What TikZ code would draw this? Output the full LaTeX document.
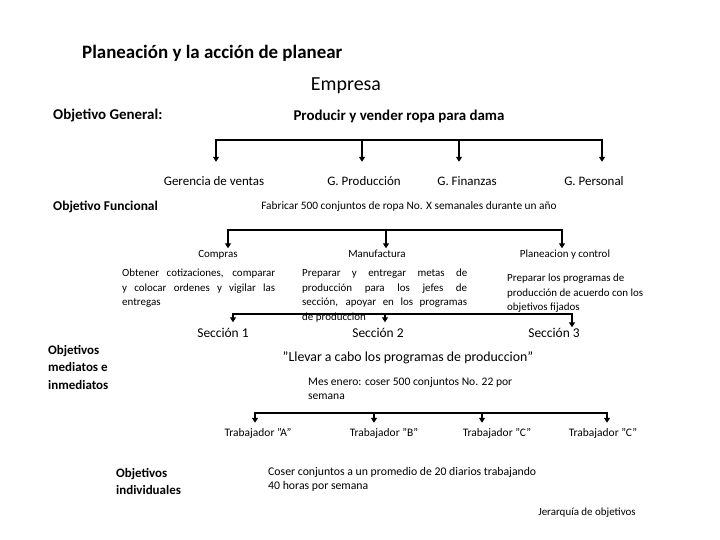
\documentclass[tikz,border=0pt]{standalone}
\usepackage{fontspec}
\setmainfont{Carlito}
\usetikzlibrary{arrows.meta}

\begin{document}
\begin{tikzpicture}[x=1bp, y=-1bp,
		barra/.style={line width=1.8bp, line cap=rect},
		flecha/.style={line width=1.8bp, -{Triangle[width=6bp,length=5bp]}},
		titulo/.style={font=\fontsize{19}{22}\selectfont\bfseries, anchor=west, inner sep=0pt},
		negrita/.style={font=\fontsize{15}{17}\selectfont\bfseries, inner sep=0pt},
		nivel/.style={font=\fontsize{13}{17.5}\selectfont\bfseries, inner sep=0pt, anchor=north west, align=left},
		gerencia/.style={font=\fontsize{13}{15}\selectfont, anchor=base, inner sep=0pt, text height=9bp},
		depto/.style={font=\fontsize{11}{14}\selectfont, anchor=base, inner sep=0pt, text height=9bp},
		trabajador/.style={depto, font=\fontsize{11.5}{14}\selectfont},
		seccion/.style={font=\fontsize{13.5}{16}\selectfont, anchor=base, inner sep=0pt, text height=9bp},
		texto/.style={font=\fontsize{11}{14.5}\selectfont, inner sep=0pt},
		bloque/.style={texto, anchor=north west, align=justify},
	]
	\useasboundingbox (0,0) rectangle (720,540);

	\node[titulo] (titulo) at (82,53) {Planeación y la acción de planear};
	\node[font=\fontsize{20}{22}\selectfont, inner sep=0pt] (empresa) at (346,86) {Empresa};
	\node[negrita, anchor=west] (objgen) at (53,116) {Objetivo General:};
	\node[negrita] (producir) at (399,116) {Producir y vender ropa para dama};

	\node[gerencia] (ventas) at (214,186) {Gerencia de ventas};
	\node[gerencia] (gprod) at (364,186) {G. Producción};
	\node[gerencia] (gfin) at (467,186) {G. Finanzas};
	\node[gerencia] (gpers) at (594,186) {G. Personal};

	\node[negrita, font=\fontsize{13.5}{16}\selectfont\bfseries, anchor=west] (objfun) at (53,207) {Objetivo Funcional};
	\node[texto, font=\fontsize{11.4}{14}\selectfont] (fabricar) at (409,207) {Fabricar 500 conjuntos de ropa No. X semanales durante un año};

	\node[depto] (compras) at (218,257.5) {Compras};
	\node[depto] (manuf) at (377,257.5) {Manufactura};
	\node[depto] (planea) at (565,257.5) {Planeacion y control};

	\node[bloque, text width=153bp] (tcompras) at (122,269) {Obtener cotizaciones, comparar\linebreak y colocar ordenes y vigilar las\linebreak entregas};
	\node[bloque, text width=165bp] (tmanuf) at (302,269) {Preparar y entregar metas de\linebreak producción para los jefes de\linebreak sección, apoyar en los programas\linebreak de produccion};
	\node[texto, anchor=north west, align=left] (tplanea) at (507,274) {Preparar los programas de\\producción de acuerdo con los\\objetivos fijados};

	\node[seccion] (sec1) at (223,337.5) {Sección 1};
	\node[seccion] (sec2) at (378,337.5) {Sección 2};
	\node[seccion] (sec3) at (554,337.5) {Sección 3};

	\node[nivel] (mediatos) at (48,345) {Objetivos\\mediatos e\\inmediatos};
	\node[font=\fontsize{13.9}{16}\selectfont, inner sep=0pt] (llevar) at (408,358) {”Llevar a cabo los programas de produccion”};
	\node[texto, font=\fontsize{11.6}{14}\selectfont, anchor=north west, align=left] (enero) at (308,377) {Mes enero: coser 500 conjuntos No. 22 por\\semana};

	\node[trabajador] (trabA) at (258,436.5) {Trabajador ”A”};
	\node[trabajador] (trabB) at (384,436.5) {Trabajador ”B”};
	\node[trabajador] (trabC) at (497,436.5) {Trabajador ”C”};
	\node[trabajador] (trabD) at (603,436.5) {Trabajador ”C”};

	\node[nivel] (individ) at (116,468) {Objetivos\\individuales};
	\node[texto, font=\fontsize{11.8}{14}\selectfont, anchor=north west, align=left] (coser) at (268,467) {Coser conjuntos a un promedio de 20 diarios trabajando\\40 horas por semana};
	\node[texto] (jerarquia) at (587,513) {Jerarquía de objetivos};

	\coordinate (b1a) at (216,140);
	\coordinate (b1b) at (362,140);
	\coordinate (b1c) at (459,140);
	\coordinate (b1d) at (602,140);
	\draw[barra] (b1a) -- (b1d);
	\foreach \c/\n in {b1a/ventas, b1b/gprod, b1c/gfin, b1d/gpers}
	{
		\draw[flecha, shorten >=15bp] (\c) -- (\c |- \n.north);
	}

	\coordinate (b2a) at (228,230);
	\coordinate (b2b) at (386,230);
	\coordinate (b2c) at (562,230);
	\draw[barra] (b2a) -- (b2c);
	\foreach \c/\n in {b2a/compras, b2b/manuf, b2c/planea}
	{
		\draw[flecha] (\c) -- (\c |- \n.north);
	}

	\coordinate (b3a) at (233,314);
	\coordinate (b3b) at (385,314);
	\coordinate (b3c) at (572,314);
	\draw[barra] (b3a) -- (b3c);
	\foreach \c/\n/\s in {b3a/sec1/6, b3b/sec2/6, b3c/sec3/1}
	{
		\draw[flecha, shorten >=\s bp] (\c) -- (\c |- \n.north);
	}

	\coordinate (b4a) at (255,413);
	\coordinate (b4b) at (374,413);
	\coordinate (b4c) at (482,413);
	\coordinate (b4d) at (607,413);
	\draw[barra] (b4a) -- (b4d);
	\foreach \c/\n in {b4a/trabA, b4b/trabB, b4c/trabC, b4d/trabD}
	{
		\draw[flecha, shorten >=4.5bp] (\c) -- (\c |- \n.north);
	}
\end{tikzpicture}
\end{document}
